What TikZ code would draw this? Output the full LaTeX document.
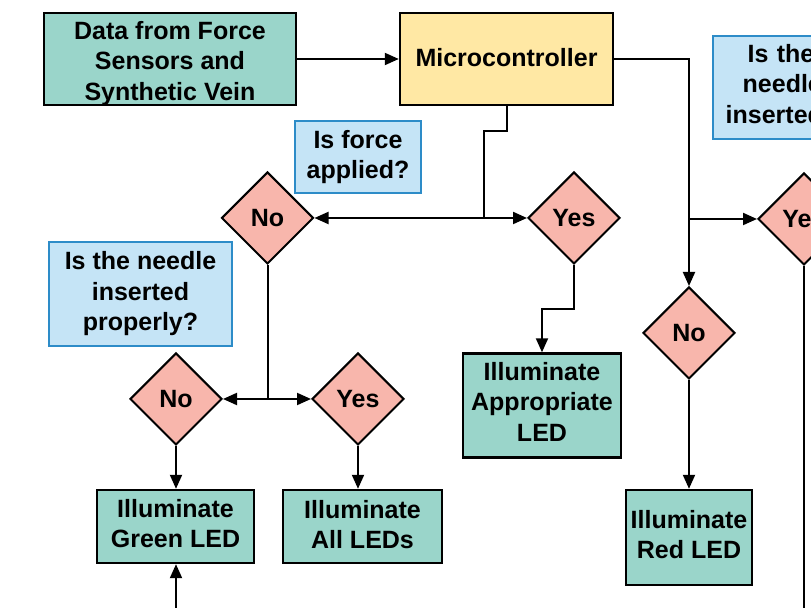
\documentclass[tikz,border=0pt]{standalone}
\usepackage{fontspec}
\setmainfont{Liberation Sans}
\usepackage{tikz}
\usetikzlibrary{shapes.geometric, arrows.meta}
\definecolor{ledteal}{RGB}{154,213,202}
\definecolor{mcuyellow}{RGB}{255,232,164}
\definecolor{choicepink}{RGB}{248,182,172}
\definecolor{askfill}{RGB}{197,228,246}
\definecolor{askdraw}{RGB}{45,140,200}
\tikzset{
  ledbox/.style={
    rectangle, draw=black, line width=1.2pt,
    fill=ledteal, align=center,
    font=\fontsize{12.5}{15.25}\selectfont\bfseries,
    inner sep=2pt
  },
  mcubox/.style={ledbox, fill=mcuyellow},
  askbox/.style={ledbox, draw=askdraw, fill=askfill},
  choice/.style={
    diamond, draw=black, line width=1pt,
    fill=choicepink, inner sep=0pt,
    minimum width=46pt, minimum height=46pt,
    font=\fontsize{12.5}{15.25}\selectfont\bfseries
  },
  flowline/.style={line width=1pt, black},
  flowarrow/.style={flowline, -{Triangle[length=7pt, width=6pt]}}
}

\begin{document}
\begin{tikzpicture}[x=0.5pt, y=-0.5pt]
    \useasboundingbox (0,0) rectangle (811,608);
    \clip (0,0) rectangle (811,608);
    \node[ledbox, minimum width=126pt, minimum height=46pt, text height=41.5pt, text depth=0pt] (data) at (170,59) {Data from Force\\Sensors and\\Synthetic Vein};
    \node[mcubox, minimum width=106.5pt, minimum height=46pt, text depth=2pt] (mcu) at (506.5,59) {Microcontroller};
    \node[askbox, minimum width=63pt, minimum height=36pt] (askforce) at (358,157) {Is force\\applied?};
    \node[askbox, minimum width=91.5pt, minimum height=52pt] (askneedle) at (140.5,294) {Is the needle\\inserted\\properly?};
    \node[askbox, anchor=west, text width=100pt, align=left, inner xsep=6.5pt, minimum height=51.5pt, text depth=34.5pt] (askright) at (711.5,87.5) {\hspace*{11pt}Is the\\\hspace*{8.5pt}needle\\inserted};
    \node[choice] (no1) at (267.5,218) {No};
    \node[choice] (yes1) at (574,218) {Yes};
    \node[choice] (no2) at (176,399) {No};
    \node[choice] (yes2) at (358,399) {Yes};
    \node[choice] (no3) at (689,333) {No};
    \node[choice] (yes3) at (804,219) {Yes};
    \node[ledbox, minimum width=79pt, minimum height=52pt, text depth=4pt] (appled) at (542,405.5) {Illuminate\\Appropriate\\LED};
    \node[ledbox, minimum width=78.5pt, minimum height=36.5pt, text depth=3pt] (greenled) at (175.5,526.5) {Illuminate\\Green LED};
    \node[ledbox, minimum width=79.5pt, minimum height=36.5pt, text depth=2pt] (allled) at (362.5,526.5) {Illuminate\\All LEDs};
    \node[ledbox, minimum width=63pt, minimum height=47.5pt, text depth=3pt] (redled) at (689,537.5) {Illuminate\\Red LED};
    \coordinate (k1) at (484,131);
    \coordinate (j1) at (484,218);
    \coordinate (k2) at (542,309);
    \coordinate (j2) at (267.5,399);
    \coordinate (j3) at (689,59);
    \coordinate (j4) at (689,219);
    \coordinate (g0) at (176,630);
    \coordinate (y0) at (804,630);
    \draw[flowarrow] (data)--(mcu);
    \draw[flowline] (mcu.south) |- (k1)--(j1);
    \draw[flowarrow] (j1)--(no1.east);
    \draw[flowarrow] (j1)--(yes1.west);
    \draw[flowarrow] (yes1.south) |- (k2)--(appled.north);
    \draw[flowline] (no1.south)--(j2);
    \draw[flowarrow] (j2)--(no2.east);
    \draw[flowarrow] (j2)--(yes2.west);
    \draw[flowarrow] (no2.south)--(no2.south |- greenled.north);
    \draw[flowarrow] (yes2.south)--(yes2.south |- allled.north);
    \draw[flowarrow] (g0)--(g0 |- greenled.south);
    \draw[flowline] (mcu.east)--(j3)--(j4);
    \draw[flowarrow] (j4)--(no3.north);
    \draw[flowarrow] (j4)--(yes3.west);
    \draw[flowarrow] (no3.south)--(redled.north);
    \draw[flowline] (yes3.south)--(y0);
  \end{tikzpicture}
\end{document}
